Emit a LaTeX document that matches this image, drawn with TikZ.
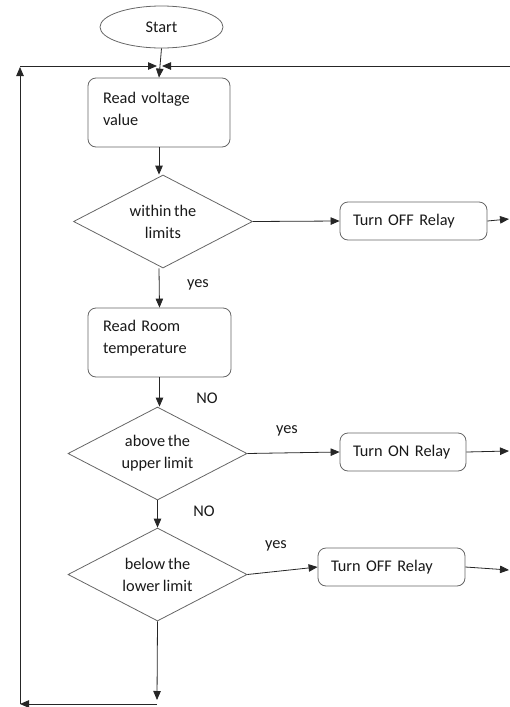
\documentclass[tikz,border=0pt]{standalone}
\usepackage{fontspec}
\setmainfont{Carlito}[WordSpace=0.75]
\usetikzlibrary{shapes.geometric,arrows.meta}
\begin{document}
\begin{tikzpicture}[x=1pt,y=-1pt,
  every node/.style={font=\fontsize{16.3pt}{22pt}\selectfont, text=black!90},
  box/.style={draw=black!60, line width=0.8pt, rounded corners=8pt, align=left, inner xsep=0pt},
  dec/.style={draw=black!60, line width=0.8pt, diamond, shape aspect=1.9, inner sep=0pt,
    minimum width=179pt, minimum height=93pt, align=center},
  arr/.style={draw=black!85, line width=0.8pt, -{Triangle[length=9pt,width=7.5pt]}},
  lbl/.style={inner sep=0pt}]
\useasboundingbox (0,0) rectangle (510,707);

% nodes
\node[ellipse, draw=black!60, line width=0.8pt, minimum width=123pt, minimum height=42pt, inner sep=0pt] (start) at (161.5,27) {Start};
\node[box, minimum width=142pt, minimum height=69pt, text width=112pt] (rv) at (159,112.5) {Read voltage\\value\par\vspace{8pt}};
\node[dec] (d1) at (163,221.5) {within the\\limits};
\node[box, minimum width=147pt, minimum height=38pt, text width=121pt] (o1) at (413.5,221) {Turn OFF Relay};
\node[box, minimum width=143pt, minimum height=69pt, text width=113pt] (rt) at (159.5,342.5) {Read Room\\temperature\par\vspace{8pt}};
\node[dec] (d2) at (157.5,453.5) {above the\\upper limit};
\node[box, minimum width=126pt, minimum height=38pt, text width=100pt] (o2) at (403,452) {Turn ON Relay};
\node[dec] (d3) at (157.5,574.5) {below the\\lower limit};
\node[box, minimum width=147pt, minimum height=38pt, text width=121pt] (o3) at (391.5,567) {Turn OFF Relay};

% labels
\node[lbl] (y1) at (198,285) {yes};
\node[lbl] (n1) at (207,398) {NO};
\node[lbl] (y2) at (287,431) {yes};
\node[lbl] (n2) at (204,511) {NO};
\node[lbl] (y3) at (276,546) {yes};

% helper coordinates
\coordinate (tl) at (20,67);
\coordinate (tlh) at (20,66);
\coordinate (jl) at (157,66);
\coordinate (jr) at (162,66);
\coordinate (tr) at (510,66);
\coordinate (bl) at (20,704);
\coordinate (bm) at (157,700);
\coordinate (bms) at (157,704);
\coordinate (e1) at (509,219);
\coordinate (e2) at (509,451);
\coordinate (e3) at (509,570);

% connectors
\draw[arr] (start.south) -- (rv.north);
\draw[arr] (rv.south) -- (rv.south |- d1.north);
\draw[arr] (d1.east) -- (o1.west);
\draw[arr] (o1.east) -- (e1);
\draw[arr] (rv.south |- d1.south) -- (rt.north);
\draw[arr] (rt.south) -- (rt.south |- d2.north);
\draw[arr] (d2.east) -- (o2.west);
\draw[arr] (o2.east) -- (e2);
\draw[arr] (d2.south) -- (d3.north);
\draw[arr] (d3.east) -- (o3.west);
\draw[arr] (o3.east) -- (e3);
\draw[arr] (d3.south) -- (bm);
\draw[arr] (bms) -- (bl);
\draw[arr] (bl) -- (tl);
\draw[arr] (tlh) -- (jl);
\draw[arr] (tr) -- (jr);
\end{tikzpicture}
\end{document}
